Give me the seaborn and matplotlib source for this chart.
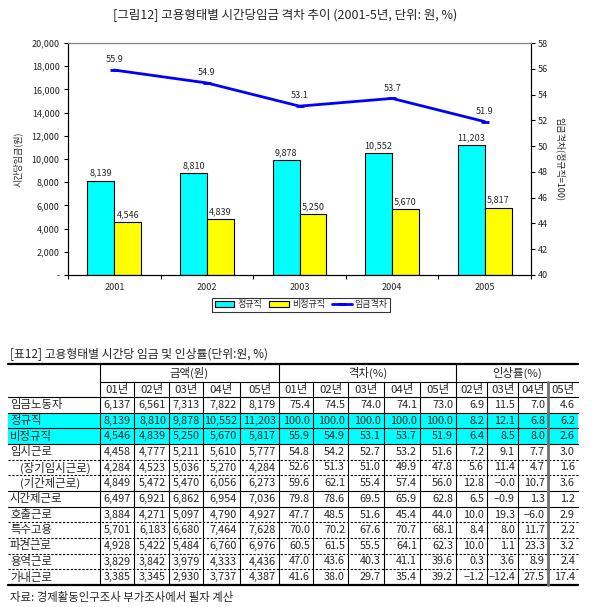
import numpy as np
import pandas as pd
import matplotlib
matplotlib.use("Agg")
import matplotlib.pyplot as plt
from matplotlib.patches import Patch, Rectangle
from matplotlib.lines import Line2D
import seaborn as sns

# chart data
years = ["2001", "2002", "2003", "2004", "2005"]
regular_wage = [8139, 8810, 9878, 10552, 11203]
nonregular_wage = [4546, 4839, 5250, 5670, 5817]
wage_gap = [55.9, 54.9, 53.1, 53.7, 51.9]
series_names = ["정규직", "비정규직", "임금격차"]

# table data
row_labels = ["임금노동자", "정규직", "비정규직", "임시근로", "(장기임시근로)", "(기간제근로)",
              "시간제근로", "호출근로", "특수고용", "파견근로", "용역근로", "가내근로"]
amount_years = ["01년", "02년", "03년", "04년", "05년"]
growth_years = ["02년", "03년", "04년", "05년"]
amounts = [
    [6137, 6561, 7313, 7822, 8179],
    [8139, 8810, 9878, 10552, 11203],
    [4546, 4839, 5250, 5670, 5817],
    [4458, 4777, 5211, 5610, 5777],
    [4284, 4523, 5036, 5270, 4284],
    [4849, 5472, 5470, 6056, 6273],
    [6497, 6921, 6862, 6954, 7036],
    [3884, 4271, 5097, 4790, 4927],
    [5701, 6183, 6680, 7464, 7628],
    [4928, 5422, 5484, 6760, 6976],
    [3829, 3842, 3979, 4333, 4436],
    [3385, 3345, 2930, 3737, 4387],
]
gaps = [
    [75.4, 74.5, 74.0, 74.1, 73.0],
    [100.0, 100.0, 100.0, 100.0, 100.0],
    [55.9, 54.9, 53.1, 53.7, 51.9],
    [54.8, 54.2, 52.7, 53.2, 51.6],
    [52.6, 51.3, 51.0, 49.9, 47.8],
    [59.6, 62.1, 55.4, 57.4, 56.0],
    [79.8, 78.6, 69.5, 65.9, 62.8],
    [47.7, 48.5, 51.6, 45.4, 44.0],
    [70.0, 70.2, 67.6, 70.7, 68.1],
    [60.5, 61.5, 55.5, 64.1, 62.3],
    [47.0, 43.6, 40.3, 41.1, 39.6],
    [41.6, 38.0, 29.7, 35.4, 39.2],
]
growth = [
    [6.9, 11.5, 7.0, 4.6],
    [8.2, 12.1, 6.8, 6.2],
    [6.4, 8.5, 8.0, 2.6],
    [7.2, 9.1, 7.7, 3.0],
    [5.6, 11.4, 4.7, 1.6],
    [12.8, -0.0, 10.7, 3.6],
    [6.5, -0.9, 1.3, 1.2],
    [10.0, 19.3, -6.0, 2.9],
    [8.4, 8.0, 11.7, 2.2],
    [10.0, 1.1, 23.3, 3.2],
    [0.3, 3.6, 8.9, 2.4],
    [-1.2, -12.4, 27.5, 17.4],
]

sns.set_theme(style="white")
plt.rcParams["font.family"] = ["Noto Sans CJK KR", "DejaVu Sans"]
plt.rcParams["axes.unicode_minus"] = False

W, H = 595, 607
fig = plt.figure(figsize=(W / 100, H / 100), dpi=100)

# ---------------- chart ----------------
ax = fig.add_axes([68 / W, 1 - 275 / H, (531 - 68) / W, (275 - 43) / H])
df = pd.DataFrame({
    "year": years * 2,
    "type": [series_names[0]] * len(years) + [series_names[1]] * len(years),
    "wage": regular_wage + nonregular_wage,
})
sns.barplot(data=df, x="year", y="wage", hue="type", palette=["#00FFFF", "#FFFF00"],
            saturation=1, width=0.58, edgecolor="black", linewidth=0.8, ax=ax, legend=False)
for cont, vals in zip(ax.containers, [regular_wage, nonregular_wage]):
    ax.bar_label(cont, labels=[f"{v:,}" for v in vals], padding=2, fontsize=6.5)

ax.set_ylim(0, 20000)
yt = list(range(0, 20001, 2000))
ax.set_yticks(yt, ["-"] + [f"{v:,}" for v in yt[1:]])
ax.set_xlim(-0.5, len(years) - 0.5)
ax.set_xticks(np.arange(-0.5, len(years), 1), minor=True)
ax.tick_params(axis="x", which="major", length=0, pad=6, labelsize=6.5)
ax.tick_params(axis="x", which="minor", bottom=True, length=3, width=0.8, color="black")
ax.tick_params(axis="y", left=True, length=3, width=0.8, color="black", pad=3, labelsize=6.5)
ax.set_xlabel("")
ax.set_ylabel("시간당임금(원)", fontsize=6.5, labelpad=6)

ax2 = ax.twinx()
sns.lineplot(x=np.arange(len(years)), y=wage_gap, ax=ax2, color="#0000FF", linewidth=2,
             marker="_", markersize=6, markeredgewidth=2, markeredgecolor="#0000FF")
for i, v in enumerate(wage_gap):
    ax2.annotate(f"{v:.1f}", (i, v), xytext=(0, 7.5), textcoords="offset points",
                 ha="center", va="center", fontsize=6.5)
ax2.set_ylim(40, 58)
ax2.set_yticks(range(40, 59, 2))
ax2.set_xlim(-0.5, len(years) - 0.5)
ax2.tick_params(axis="y", right=True, length=3, width=0.8, color="black", pad=2, labelsize=6.5)
ax2.set_ylabel("임금격차(정규직=100)", fontsize=6.5, rotation=270, labelpad=12)

for a in (ax, ax2):
    for s in a.spines.values():
        s.set_color("black")
        s.set_linewidth(0.8)
    a.spines["top"].set_color("#808080")

handles = [Patch(facecolor="#00FFFF", edgecolor="black", linewidth=0.8),
           Patch(facecolor="#FFFF00", edgecolor="black", linewidth=0.8),
           Line2D([], [], color="#0000FF", linewidth=2, marker="_", markersize=6, markeredgewidth=2)]
leg = fig.legend(handles, series_names, loc="center", bbox_to_anchor=(301 / W, 1 - 305 / H),
                 ncol=3, frameon=True, fancybox=False, edgecolor="black", fontsize=6.5,
                 handlelength=2.2, handleheight=0.6, columnspacing=0.8, handletextpad=0.3,
                 borderpad=0.25)
leg.get_frame().set_linewidth(0.8)

fig.text(285 / W, 1 - 15 / H, "[그림12] 고용형태별 시간당임금 격차 추이 (2001-5년, 단위: 원, %)",
         ha="center", va="center", fontsize=9)

# ---------------- table ----------------
tab = fig.add_axes([0, 0, 1, 1], facecolor="none")
tab.set_xlim(0, W)
tab.set_ylim(H, 0)
tab.axis("off")

col_edges = [8, 100, 134, 169, 203, 240, 279, 313, 348, 384, 420, 456, 487, 518, 548, 578]
top, mid, head_bot, bot = 364, 382, 397, 585
row_h = (bot - head_bot) / len(row_labels)
fs = 8.2
fam = ["Noto Sans CJK KR", "DejaVu Sans"]

tab.text(10, 354, "[표12] 고용형태별 시간당 임금 및 인상률(단위:원, %)", fontsize=8.5,
         va="center", ha="left")

# cyan highlight rows
for r in (1, 2):
    tab.add_patch(Rectangle((col_edges[0], head_bot + r * row_h), col_edges[-1] - col_edges[0],
                            row_h, facecolor="#00FFFF", edgecolor="none", zorder=0))

# horizontal rules
tab.plot([col_edges[0], col_edges[-1]], [top, top], color="black", lw=1.6)
tab.plot([col_edges[1], col_edges[-1]], [mid, mid], color="black", lw=0.8)
tab.plot([col_edges[0], col_edges[-1]], [head_bot, head_bot], color="black", lw=0.8)
row_styles = ["-", "-", "-", "--", "--", "-", "-", "--", "--", "--", "--", "-"]
for r, st in enumerate(row_styles):
    y = head_bot + (r + 1) * row_h
    lw = 1.6 if r == len(row_styles) - 1 else 0.8
    tab.plot([col_edges[0], col_edges[-1]], [y, y], color="black", lw=lw,
             linestyle=(0, (2, 1.5)) if st == "--" else "-")

# vertical rules
for x in col_edges[1:-1]:
    y0 = top if x in (100, 279, 456) else mid
    if x == 548:
        tab.plot([x, x], [y0, bot], color="#707070", lw=2)
    else:
        tab.plot([x, x], [y0, bot], color="black", lw=0.8)

# headers
tab.text((100 + 279) / 2, (top + mid) / 2, "금액(원)", ha="center", va="center", fontsize=fs)
tab.text((279 + 456) / 2, (top + mid) / 2, "격차(%)", ha="center", va="center", fontsize=fs)
tab.text((456 + 578) / 2, (top + mid) / 2, "인상률(%)", ha="center", va="center", fontsize=fs)
year_heads = amount_years + amount_years + growth_years
for j, lab in enumerate(year_heads):
    xc = (col_edges[j + 1] + col_edges[j + 2]) / 2
    tab.text(xc, (mid + head_bot) / 2, lab, ha="center", va="center", fontsize=fs)

# body
for r, lab in enumerate(row_labels):
    yc = head_bot + (r + 0.5) * row_h
    x0 = 20 if lab.startswith("(") else 10
    tab.text(x0, yc, lab, ha="left", va="center", fontsize=fs)
    cells = [f"{v:,}" for v in amounts[r]] + [f"{v:.1f}" for v in gaps[r]] + \
            [f"{v:.1f}".replace("-", "−") for v in growth[r]]
    for j, c in enumerate(cells):
        tab.text(col_edges[j + 2] - 3, yc, c, ha="right", va="center", fontsize=7.8, family=fam)

tab.text(10, 597, "자료: 경제활동인구조사 부가조사에서 필자 계산", ha="left", va="center", fontsize=fs)

fig.savefig("out.png", dpi=100)
